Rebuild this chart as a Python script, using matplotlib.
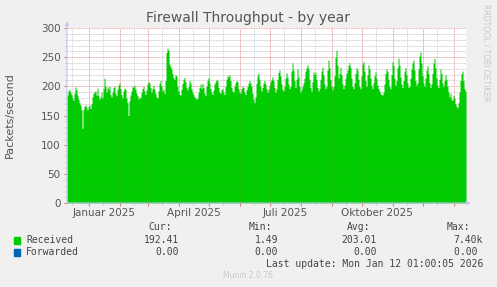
import numpy as np
import pandas as pd
import matplotlib
matplotlib.use('Agg')
import matplotlib.pyplot as plt
import matplotlib.dates as mdates
from matplotlib.patches import Rectangle

# daily packets/second, 2024-12-10 .. 2026-01-12
received = [
    185, 192, 195, 190, 186, 180, 176, 188, 199, 194, 185, 178, 172, 168, 160, 128, 160, 166, 168, 164,
    160, 165, 168, 162, 170, 182, 188, 190, 192, 185, 197, 184, 178, 182, 190, 180, 196, 214, 200, 190,
    199, 195, 200, 186, 182, 190, 198, 200, 188, 184, 195, 202, 206, 196, 186, 180, 192, 197, 195, 180,
    172, 150, 175, 185, 192, 200, 198, 202, 195, 188, 184, 178, 182, 180, 190, 196, 200, 192, 186, 194,
    204, 208, 206, 198, 190, 196, 202, 195, 188, 182, 180, 192, 205, 210, 200, 192, 195, 188, 210, 258,
    265, 262, 238, 234, 230, 222, 215, 212, 220, 218, 200, 192, 186, 185, 195, 205, 212, 215, 208, 198,
    194, 200, 210, 206, 196, 190, 186, 182, 180, 178, 180, 190, 198, 204, 196, 205, 198, 188, 184, 200,
    210, 215, 206, 196, 190, 186, 194, 204, 208, 212, 210, 198, 190, 188, 194, 196, 190, 186, 200, 212,
    218, 216, 220, 210, 198, 192, 190, 200, 206, 210, 208, 196, 190, 188, 196, 200, 198, 190, 186, 194,
    200, 205, 210, 206, 200, 188, 178, 172, 182, 205, 218, 223, 212, 200, 192, 198, 206, 210, 204, 196,
    190, 195, 202, 208, 212, 216, 210, 198, 190, 196, 212, 224, 228, 218, 204, 195, 192, 200, 214, 223,
    216, 204, 196, 200, 226, 240, 228, 210, 198, 212, 230, 216, 200, 190, 194, 200, 206, 214, 226, 232,
    237, 230, 212, 198, 192, 208, 225, 220, 224, 212, 198, 192, 196, 212, 226, 233, 220, 204, 196, 200,
    228, 245, 232, 212, 200, 194, 200, 218, 250, 262, 236, 214, 222, 233, 220, 204, 196, 202, 214, 222,
    228, 236, 240, 232, 214, 200, 196, 206, 222, 232, 228, 212, 200, 196, 218, 238, 242, 226, 210, 200,
    220, 237, 230, 214, 202, 196, 206, 218, 225, 214, 202, 196, 192, 188, 186, 185, 190, 204, 222, 230,
    226, 212, 200, 196, 220, 242, 236, 214, 202, 210, 232, 248, 236, 216, 204, 198, 210, 226, 232, 220,
    206, 198, 200, 214, 230, 240, 245, 228, 210, 202, 206, 230, 252, 259, 240, 218, 206, 200, 214, 228,
    235, 222, 206, 198, 204, 222, 240, 248, 232, 214, 202, 198, 212, 230, 222, 206, 200, 210, 220, 212,
    200, 190, 182, 188, 178, 176, 185, 180, 170, 166, 163, 172, 190, 210, 222, 226, 210, 196, 192,
]
forwarded = [0.0] * len(received)

legend_names = ['Received', 'Forwarded']
legend_colors = ['#00CC00', '#0066B3']
cur_vals = ['192.41', '0.00']
min_vals = ['1.49', '0.00']
avg_vals = ['203.01', '0.00']
max_vals = ['7.40k', '0.00 ']

quarter_labels = ['Januar 2025', 'April 2025', 'Juli 2025', 'Oktober 2025']
quarter_pos = ['2025-01-16', '2025-04-16', '2025-07-16', '2025-10-16']

W, H = 497, 287
BG = '#F0F0F0'
TXT = '#555555'

fig = plt.figure(figsize=(W / 100, H / 100), dpi=100, facecolor=BG)
ax = fig.add_axes([67 / W, 84 / H, 399 / W, 175 / H])
ax.set_facecolor('white')

dates = pd.date_range('2024-12-10', periods=len(received), freq='D')
xs = list(dates) + [dates[-1] + pd.Timedelta(days=1)]
ax.fill_between(xs, received + [received[-1]], step='post',
                color=legend_colors[0], linewidth=0, zorder=2)
ax.fill_between(xs, forwarded + [forwarded[-1]], step='post',
                color=legend_colors[1], linewidth=0, zorder=2)

ax.set_xlim(pd.Timestamp('2024-12-10'), pd.Timestamp('2026-01-13'))
ax.set_ylim(0, 300)

ax.set_yticks(np.arange(0, 301, 50))
ax.set_yticks(np.arange(0, 301, 10), minor=True)
ax.xaxis.set_major_locator(mdates.MonthLocator())
ax.xaxis.set_minor_locator(mdates.MonthLocator(bymonthday=15))
ax.set_xticklabels([])

# grid behind the area, plus a faint copy on top (rrdtool look)
ax.grid(which='minor', color='#c8c8c8', linestyle=(0, (1, 1)), linewidth=0.6, zorder=1)
ax.grid(which='major', color='#e89090', linestyle=(0, (1, 1)), linewidth=0.6, zorder=1)
for yv in np.arange(10, 300, 10):
    ax.axhline(yv, color='#a0a0a0', linestyle=(0, (1, 1)), linewidth=0.5, alpha=0.18, zorder=3)
for xv in ax.xaxis.get_majorticklocs():
    ax.axvline(xv, color='#e06060', linestyle=(0, (1, 1)), linewidth=0.5, alpha=0.25, zorder=3)

ax.tick_params(which='major', axis='both', direction='out', length=2.5, width=0.6,
               color='#e06060', labelsize=7.5, labelcolor=TXT, pad=2)
ax.tick_params(which='minor', axis='both', direction='out', length=1.5, width=0.5,
               color='#b0b0b0')

for s in ax.spines.values():
    s.set_visible(False)

# axis lines with arrows
ax.annotate('', xy=(0, 1.04), xytext=(0, 0), xycoords='axes fraction',
            arrowprops=dict(arrowstyle='-|>', color='#c0c8f0', lw=0.8,
                            mutation_scale=6, shrinkA=0, shrinkB=0), zorder=4,
            annotation_clip=False)
ax.annotate('', xy=(1.012, 0), xytext=(0, 0), xycoords='axes fraction',
            arrowprops=dict(arrowstyle='-|>', color='#c0c8f0', lw=0.8,
                            mutation_scale=6, shrinkA=0, shrinkB=0), zorder=4,
            annotation_clip=False)

for lab, pos in zip(quarter_labels, quarter_pos):
    ax.text(mdates.date2num(pd.Timestamp(pos)), -0.055, lab,
            transform=ax.get_xaxis_transform(), ha='center', va='center',
            fontsize=7.5, color=TXT)

fig.text(248 / W, 1 - 18 / H, 'Firewall Throughput - by year', ha='center', va='center',
         fontsize=10, color=TXT)
fig.text(10 / W, 1 - 115 / H, 'Packets/second', rotation=90, ha='center', va='center',
         fontsize=8, color=TXT)
fig.text(486 / W, 1 - 53 / H, 'RRDTOOL / TOBI OETIKER', rotation=270, ha='center',
         va='center', fontsize=5.5, color='#c8c8c8')

mono = dict(family='DejaVu Sans Mono', fontsize=7, color='#444444')
for hdr, xr in zip(['Cur:', 'Min:', 'Avg:', 'Max:'], [172, 272, 370, 470]):
    fig.text(xr / W, 1 - 227 / H, hdr, ha='right', va='center', **mono)

rows_y = [240, 252]
for i in range(len(legend_names)):
    y = rows_y[i]
    fig.add_artist(Rectangle((14 / W, 1 - (y + 3.5) / H), 6 / W, 7 / H,
                             transform=fig.transFigure, color=legend_colors[i]))
    fig.text(26 / W, 1 - y / H, legend_names[i], ha='left', va='center', **mono)
    fig.text(179 / W, 1 - y / H, cur_vals[i], ha='right', va='center', **mono)
    fig.text(278 / W, 1 - y / H, min_vals[i], ha='right', va='center', **mono)
    fig.text(377 / W, 1 - y / H, avg_vals[i], ha='right', va='center', **mono)
    fig.text(483 / W, 1 - y / H, max_vals[i], ha='right', va='center', **mono)

fig.text(483 / W, 1 - 264 / H, 'Last update: Mon Jan 12 01:00:05 2026', ha='right',
         va='center', **mono)
fig.text(248 / W, 1 - 276 / H, 'Munin 2.0.76', ha='center', va='center',
         fontsize=5.5, color='#c8c8c8')

fig.savefig('out.png', dpi=100, facecolor=BG)
